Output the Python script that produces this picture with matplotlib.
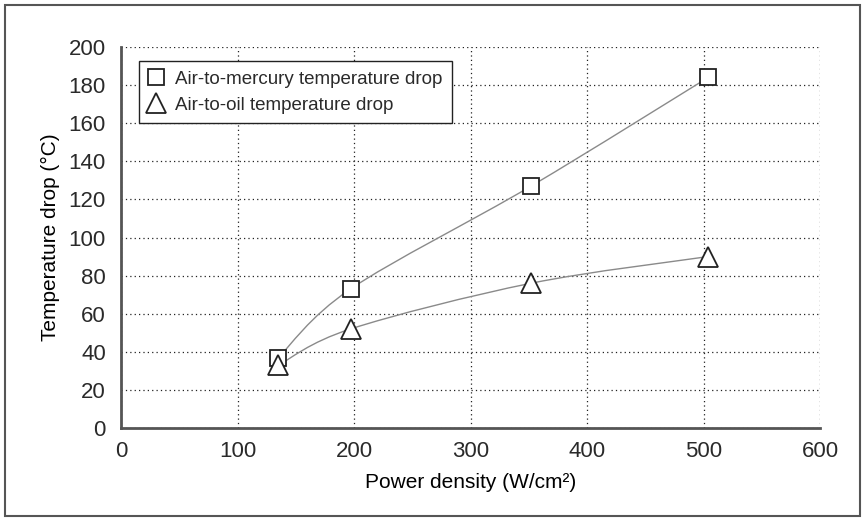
import numpy as np
import matplotlib.pyplot as plt
from matplotlib.path import Path
from matplotlib.patches import PathPatch, Rectangle

# values
power = [135, 197, 352, 504]
merc_drop = [37, 73, 127, 184]
oil_drop = [33, 52, 76, 90]
x_ticks = [0, 100, 200, 300, 400, 500, 600]
y_ticks = [0, 20, 40, 60, 80, 100, 120, 140, 160, 180, 200]

plt.rcParams['font.family'] = ['Liberation Sans', 'DejaVu Sans']
plt.rcParams['text.color'] = '#2a2a2a'


def smooth_path(xs, ys, t=0.5):
    # catmull-rom style bezier through the data points (like a smoothed line)
    pts = np.column_stack([xs, ys]).astype(float)
    verts = [pts[0]]
    codes = [Path.MOVETO]
    n = len(pts)
    for i in range(n - 1):
        p0 = pts[i - 1] if i > 0 else pts[i]
        p1, p2 = pts[i], pts[i + 1]
        p3 = pts[i + 2] if i + 2 < n else pts[i + 1]
        c1 = p1 + (p2 - p0) * t / 3
        c2 = p2 - (p3 - p1) * t / 3
        verts += [c1, c2, p2]
        codes += [Path.CURVE4] * 3
    return Path(verts, codes)


fig = plt.figure(figsize=(8.65, 5.22), dpi=100)
ax = fig.add_axes([0.140, 0.180, 0.808, 0.730])

for ys in (merc_drop, oil_drop):
    ax.add_patch(PathPatch(smooth_path(power, ys), fill=False, ec='#8a8a8a', lw=1.0, zorder=2))

ax.plot(power, merc_drop, ls='none', marker='s', ms=12, mfc='white', mec='#222222', mew=1.3,
        label='Air-to-mercury temperature drop', zorder=3)
ax.plot(power, oil_drop, ls='none', marker='^', ms=14, mfc='white', mec='#222222', mew=1.3,
        label='Air-to-oil temperature drop', zorder=3)

ax.set_xlim(0, 600)
ax.set_ylim(0, 200)
ax.set_xticks(x_ticks)
ax.set_yticks(y_ticks)
ax.tick_params(length=0, labelsize=16, labelcolor='#2a2a2a')
ax.tick_params(axis='x', pad=9)
ax.tick_params(axis='y', pad=11)
ax.grid(True, ls=(0, (1, 2.5)), color='#222222', lw=0.9)
for s in ('top', 'right'):
    ax.spines[s].set_visible(False)
for s in ('left', 'bottom'):
    ax.spines[s].set_color('#555555')
    ax.spines[s].set_linewidth(2)

ax.set_xlabel('Power density (W/cm²)', fontsize=15, labelpad=8)
ax.set_ylabel('Temperature drop (°C)', fontsize=15, labelpad=6)

leg = ax.legend(loc='upper left', bbox_to_anchor=(0.026, 0.962), fontsize=13.5, fancybox=False,
                framealpha=1, edgecolor='#222222', handlelength=0.8, handletextpad=0.6,
                borderpad=0.5, labelspacing=0.45, borderaxespad=0)
leg.get_frame().set_linewidth(1.0)

fig.patches.append(Rectangle((0.006, 0.011), 0.988, 0.979, transform=fig.transFigure,
                             fill=False, ec='#555555', lw=1.5))

fig.savefig('out.png', dpi=100)
